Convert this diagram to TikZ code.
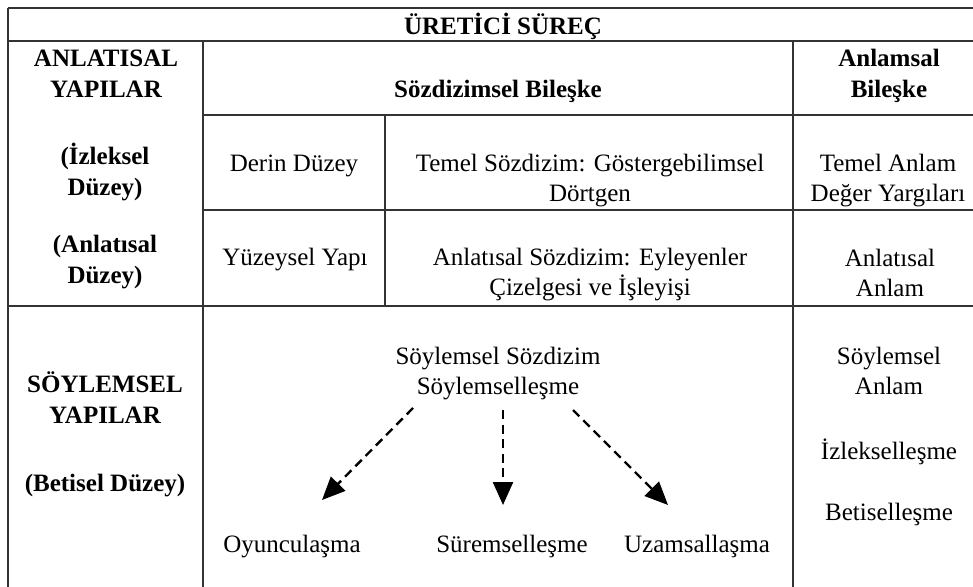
\documentclass[tikz,border=0pt]{standalone}
\usepackage{fontspec}
\setmainfont{Liberation Serif}
\usetikzlibrary{arrows.meta}

\begin{document}
\begin{tikzpicture}[
  x=0.5pt, y=-0.5pt,
  font=\fontsize{12.5}{15}\selectfont,
  grid/.style={draw=black!80, line width=0.7pt},
  head/.style={font=\fontsize{12.5}{15.5}\selectfont\bfseries, align=center, inner sep=0pt},
  cell/.style={align=center, inner sep=0pt},
  flow/.style={line width=1.2pt, dash pattern=on 4.5pt off 2.8pt,
               -{Triangle[length=11.5pt,width=10pt]}}
]
\useasboundingbox (0,0) rectangle (973,587);

%--------------------------------------------------------------
% Griglia della tabella
%--------------------------------------------------------------
\draw[grid] (8,8) -- (973,8);
\draw[grid] (8,41) -- (973,41);
\draw[grid] (8,8) -- (8,587);
\draw[grid] (203,41) -- (203,587);
\draw[grid] (793,41) -- (793,587);
\draw[grid] (385,115) -- (385,306);
\draw[grid] (203,115) -- (973,115);
\draw[grid] (203,210) -- (973,210);
\draw[grid] (8,306) -- (973,306);

%--------------------------------------------------------------
% Intestazioni
%--------------------------------------------------------------
\node[head] (uretici) at (503,26) {ÜRETİCİ SÜREÇ};
\node[head] (anlyap) at (106,74) {ANLATISAL\\ YAPILAR};
\node[head] (izlduz) at (105,172) {(İzleksel\\ Düzey)};
\node[head] (anlduz) at (105,262) {(Anlatısal\\ Düzey)};
\node[head] (soyyap) at (105,398) {SÖYLEMSEL\\ YAPILAR};
\node[head] (betduz) at (105,486) {(Betisel Düzey)};
\node[head] (sozbil) at (498,91) {Sözdizimsel Bileşke};
\node[head] (anlbil) at (889,76) {Anlamsal\\ Bileşke};

%--------------------------------------------------------------
% Celle
%--------------------------------------------------------------
\node[cell] (derin) at (294,166) {Derin Düzey};
\node[cell] (temsoz) at (590,181) {Temel Sözdizim: Göstergebilimsel\\ Dörtgen};
\node[cell] (temanl) at (888,181) {Temel Anlam\\ Değer Yargıları};
\node[cell] (yuzey) at (295,260) {Yüzeysel Yapı};
\node[cell] (anlsoz) at (590,275) {Anlatısal Sözdizim: Eyleyenler\\ Çizelgesi ve İşleyişi};
\node[cell] (anlanl) at (890,273) {Anlatısal\\ Anlam};
\node[cell] (soysoz) at (498,374) {Söylemsel Sözdizim\\ Söylemselleşme};
\node[cell] (soyanl) at (889,371) {Söylemsel\\ Anlam};
\node[cell, anchor=base] (izlek) at (889,459) {İzlekselleşme};
\node[cell, anchor=base] (betis) at (889,520) {Betiselleşme};
\node[cell, anchor=base] (oyun) at (292,552) {Oyunculaşma};
\node[cell, anchor=base] (surem) at (512,552) {Süremselleşme};
\node[cell, anchor=base] (uzam) at (697,552) {Uzamsallaşma};

%--------------------------------------------------------------
% Frecce tratteggiate
%--------------------------------------------------------------
\coordinate (s1) at (413,408);
\coordinate (s2) at (503,410);
\coordinate (s3) at (573,410);
\coordinate (t1) at (322,500);
\coordinate (t2) at (503,505);
\coordinate (t3) at (668,505);
\draw[flow] (s1) -- (t1);
\draw[flow] (s2) -- (t2);
\draw[flow] (s3) -- (t3);

\end{tikzpicture}
\end{document}
